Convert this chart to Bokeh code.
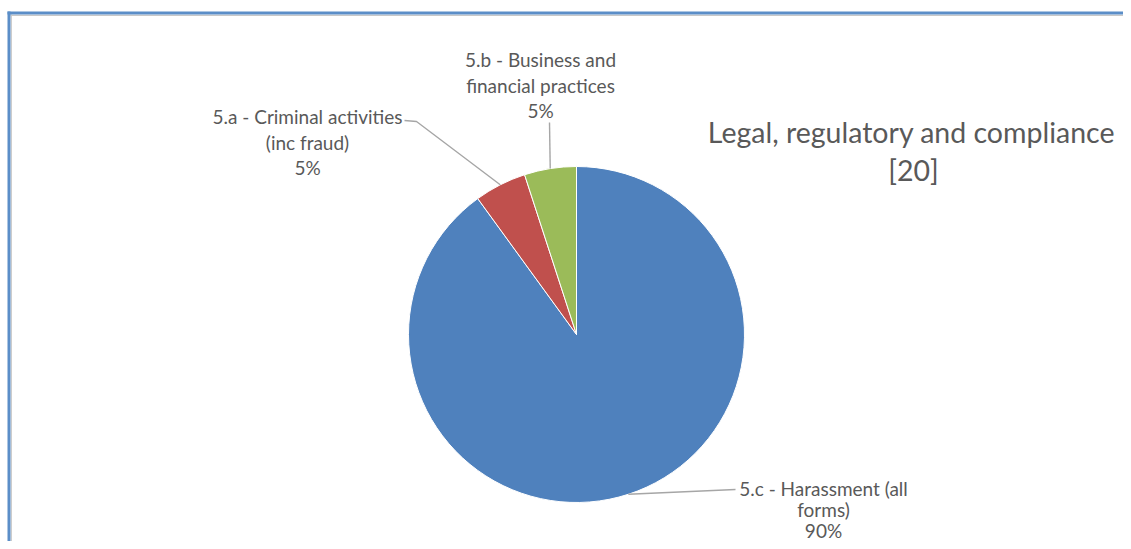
import math
from bokeh.plotting import figure
from bokeh.models import Range1d
from bokeh.core.properties import value
from bokeh.embed import file_html
from bokeh.resources import INLINE

# ---- data ----
categories = ["5.c - Harassment (all\nforms)",
              "5.a - Criminal activities\n(inc fraud)",
              "5.b - Business and\nfinancial practices"]
counts = [18, 1, 1]
colors = ["#4F81BD", "#C0504D", "#9BBB59"]
title_text = "Legal, regulatory and compliance"

# ---- layout (picture pixel coords) ----
W, H = 1123, 541
def Y(py):
    return H - py

cx, cy, R = 576, 334, 168
# label block centres and line spacing, leader elbow points
label_pos = [(823, 488), (307, 116), (540, 59)]
label_lh = [21, 25.5, 25.5]
leader_start = [[(735, 489)], [(404, 120), (416, 121)], [(549, 122)]]

p = figure(width=W, height=H, output_backend="svg", toolbar_location=None,
           x_range=Range1d(0, W), y_range=Range1d(0, H),
           min_border=0, outline_line_color=None)
p.axis.visible = False
p.grid.visible = False
p.background_fill_color = "white"
p.border_fill_color = "white"

# frame (top and left edges visible)
p.line([10, W], [Y(14.8)] * 2, line_color="#C8C8C8", line_width=1.2)
p.line([10.8, 10.8], [Y(14), 0], line_color="#C8C8C8", line_width=1.2)
p.line([7, W], [Y(12.5)] * 2, line_color="#5B8EC8", line_width=3)
p.line([8.5, 8.5], [Y(11), 0], line_color="#5B8EC8", line_width=3)

total = sum(counts)
start = math.pi / 2
font = value("Lato")
for i, (cat, n, col) in enumerate(zip(categories, counts, colors)):
    sweep = 2 * math.pi * n / total
    end = start - sweep
    p.wedge(x=[cx], y=[Y(cy)], radius=R, radius_units="screen",
            start_angle=end, end_angle=start,
            fill_color=col, line_color="white", line_width=1)
    mid = (start + end) / 2
    ax = cx + R * math.cos(mid)
    ay = cy - R * math.sin(mid)
    pts = leader_start[i] + [(ax, ay)]
    p.line([q[0] for q in pts], [Y(q[1]) for q in pts],
           line_color="#A6A6A6", line_width=1.4)
    lines = cat.split("\n") + ["%d%%" % round(100 * n / total)]
    lx, ly = label_pos[i]
    for k, t in enumerate(lines):
        p.text(x=[lx], y=[Y(ly + k * label_lh[i])], text=[t], text_font=font,
               text_font_size="19px", text_color="#595959",
               text_align="center", text_baseline="middle")
    start = end

p.text(x=[911], y=[Y(131)], text=[title_text], text_font=font,
       text_font_size="28.5px", text_color="#595959",
       text_align="center", text_baseline="middle")
p.text(x=[913], y=[Y(169)], text=["[%d]" % total], text_font=font,
       text_font_size="28.5px", text_color="#595959",
       text_align="center", text_baseline="middle")

open("out.html", "w").write(file_html(p, INLINE))
